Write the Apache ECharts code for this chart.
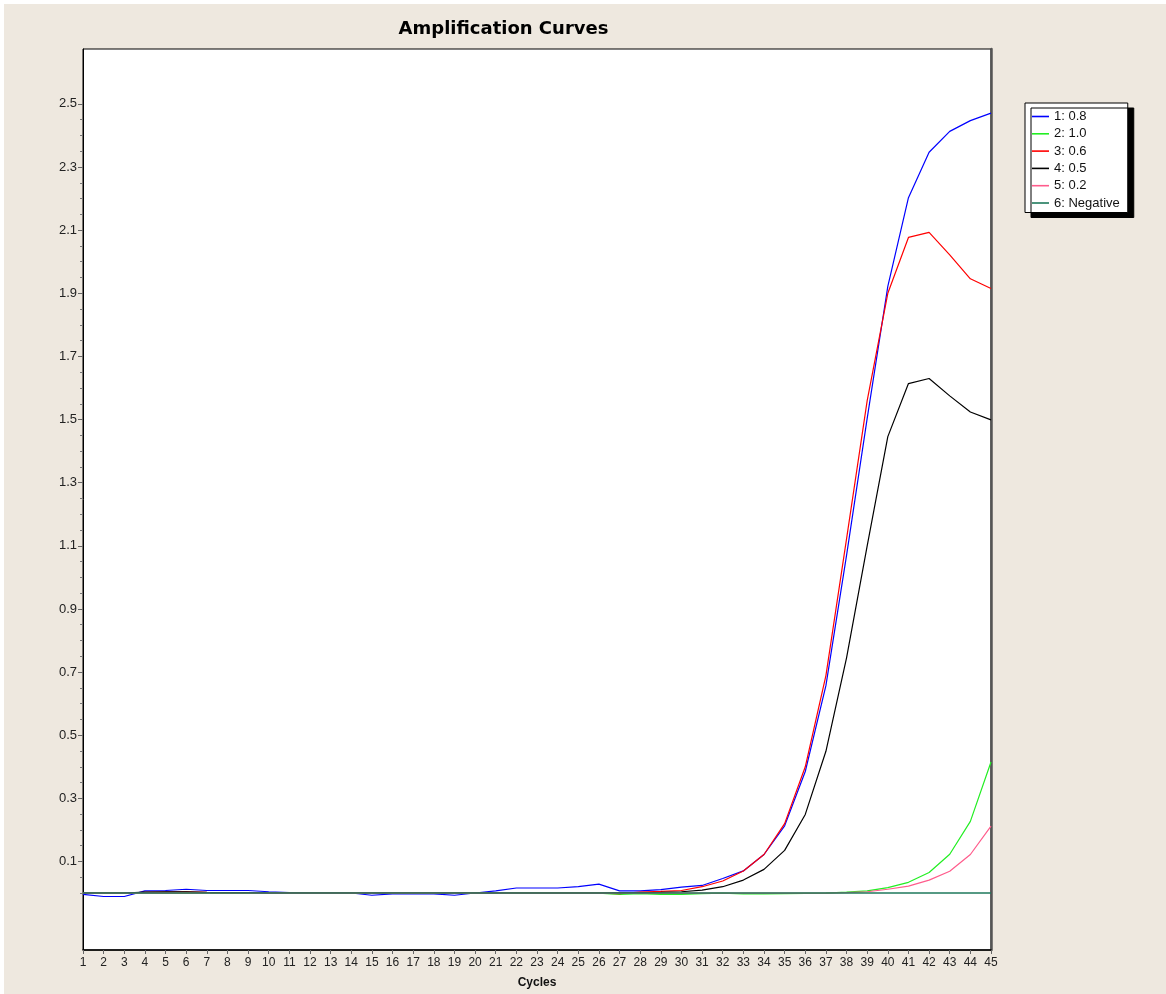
<!DOCTYPE html>
<html>
<head>
<meta charset="utf-8">
<script src="https://cdn.jsdelivr.net/npm/echarts@6/dist/echarts.min.js"></script>
<style>
html,body{margin:0;padding:0;background:#ffffff;}
#chart{position:absolute;left:4px;top:4px;width:1162px;height:990px;background:#EEE8DF;}
</style>
</head>
<body>
<div id="chart"></div>
<script>
const cycles = [1,2,3,4,5,6,7,8,9,10,11,12,13,14,15,16,17,18,19,20,21,22,23,24,25,26,27,28,29,30,31,32,33,34,35,36,37,38,39,40,41,42,43,44,45];

const seriesNames = ['1: 0.8','2: 1.0','3: 0.6','4: 0.5','5: 0.2','6: Negative'];

const s1 = [-0.004,-0.011,-0.011,0.007,0.008,0.012,0.008,0.008,0.008,0.004,0.001,0.0,0.0,0.0,-0.007,-0.003,-0.003,-0.003,-0.007,0.0,0.007,0.016,0.016,0.016,0.02,0.028,0.007,0.007,0.011,0.019,0.024,0.046,0.07,0.122,0.213,0.385,0.657,1.07,1.504,1.922,2.203,2.347,2.413,2.447,2.471];
const s2 = [0.0,0.0,0.0,0.0,0.0,0.0,0.0,0.0,0.0,0.0,0.0,0.0,0.0,0.0,0.0,0.0,0.0,0.0,0.0,0.0,0.0,0.0,0.0,0.0,0.0,0.0,-0.004,-0.002,-0.004,-0.004,-0.002,0.0,-0.003,-0.003,-0.002,-0.001,0.0,0.003,0.007,0.017,0.034,0.065,0.123,0.227,0.415];
const s3 = [0.0,0.0,0.0,0.002,0.003,0.004,0.002,0.001,0.001,0.0,0.0,0.0,0.0,0.0,0.0,0.0,0.0,0.0,0.0,0.0,0.0,0.0,0.0,0.0,0.0,0.0,-0.002,0.003,0.005,0.008,0.02,0.038,0.07,0.122,0.22,0.40,0.689,1.122,1.56,1.90,2.077,2.093,2.022,1.946,1.915];
const s4 = [0.0,0.0,0.0,0.003,0.004,0.004,0.002,0.001,0.001,0.0,0.0,0.0,0.0,0.0,0.0,0.0,0.0,0.0,0.0,0.0,0.0,0.0,0.0,0.0,0.0,0.0,0.001,0.001,0.002,0.004,0.009,0.02,0.041,0.075,0.135,0.249,0.449,0.745,1.10,1.446,1.614,1.630,1.575,1.524,1.499];
const s5 = [0.0,0.0,0.0,0.0,0.0,0.0,0.0,0.0,0.0,0.0,0.0,0.0,0.0,0.0,0.0,0.0,0.0,0.0,0.0,0.0,0.0,0.0,0.0,0.0,0.0,0.0,0.0,0.0,0.0,0.0,0.0,0.0,0.0,0.0,0.0,0.0,0.0,0.001,0.004,0.012,0.022,0.041,0.069,0.122,0.212];
const s6 = [0.0,0.0,0.0,0.0,0.0,0.0,0.0,0.0,0.0,0.0,0.0,0.0,0.0,0.0,0.0,0.0,0.0,0.0,0.0,0.0,0.0,0.0,0.0,0.0,0.0,0.0,0.0,0.0,0.0,0.0,0.0,0.0,0.0,0.0,0.0,0.0,0.0,0.0,0.0,0.0,0.0,0.0,0.0,0.0,0.0];

const yLabelTicks = [0.1,0.3,0.5,0.7,0.9,1.1,1.3,1.5,1.7,1.9,2.1,2.3,2.5];
const yMinorTicks = [0.0,0.05,0.15,0.2,0.25,0.35,0.4,0.45,0.55,0.6,0.65,0.75,0.8,0.85,0.95,1.0,1.05,1.15,1.2,1.25,1.35,1.4,1.45,1.55,1.6,1.65,1.75,1.8,1.85,1.95,2.0,2.05,2.15,2.2,2.25,2.35,2.4,2.45];

const colors = ['#0000FF','#22EE22','#FF0000','#000000','#FF5C8C','#1F7A5C'];
const allData = [s1,s2,s3,s4,s5,s6];

const chart = echarts.init(document.getElementById('chart'), null, {renderer:'canvas'});

const Y_MIN = -0.1805, Y_MAX = 2.674;

const series = allData.map((d, i) => ({
  name: seriesNames[i],
  type: 'line',
  data: d.map((v, k) => [cycles[k], v]),
  symbol: 'none',
  showSymbol: false,
  smooth: false,
  animation: false,
  z: i === 5 ? 3 : 2,
  lineStyle: { color: colors[i], width: i === 5 ? 1.6 : 1.2 },
  itemStyle: { color: colors[i] }
}));

chart.setOption({
  animation: false,
  backgroundColor: 'transparent',
  textStyle: { fontFamily: 'Liberation Sans, Arial, sans-serif' },
  title: {
    text: 'Amplification Curves',
    left: 499.5,
    top: 16,
    padding: 0,
    textAlign: 'center',
    textStyle: { fontFamily: 'DejaVu Sans', fontWeight: 'bold', fontSize: 18, color: '#000' }
  },
  legend: {
    orient: 'vertical',
    left: 1021,
    top: 99,
    padding: [7, 8, 3, 7],
    icon: 'rect',
    itemWidth: 17,
    itemHeight: 1.6,
    itemGap: 4.3,
    backgroundColor: '#ffffff',
    borderColor: '#000000',
    borderWidth: 1,
    borderRadius: 0,
    shadowColor: '#000000',
    shadowBlur: 0,
    shadowOffsetX: 6,
    shadowOffsetY: 5,
    textStyle: { fontSize: 13, color: '#111', fontFamily: 'Liberation Sans, Arial, sans-serif' },
    data: seriesNames
  },
  grid: {
    left: 79,
    top: 45,
    right: 175,
    bottom: 42.3,
    show: true,
    backgroundColor: '#ffffff',
    borderColor: '#000000',
    borderWidth: 1
  },
  xAxis: {
    type: 'value',
    min: 1,
    max: 45,
    interval: 1,
    name: 'Cycles',
    nameLocation: 'middle',
    nameGap: 27,
    nameTextStyle: { fontWeight: 'bold', fontSize: 12, color: '#111', fontFamily: 'Liberation Sans, Arial, sans-serif' },
    axisLine: { show: true, onZero: false, lineStyle: { color: '#000', width: 1.5 } },
    axisTick: { show: true, length: 4, lineStyle: { color: '#666' } },
    axisLabel: { show: true, fontSize: 12, color: '#222', margin: 7, fontFamily: 'Liberation Sans, Arial, sans-serif' },
    splitLine: { show: false }
  },
  yAxis: [
    {
      type: 'value',
      min: Y_MIN,
      max: Y_MAX,
      position: 'left',
      axisLine: { show: true, onZero: false, lineStyle: { color: '#000', width: 1 } },
      axisTick: { show: true, length: 5, customValues: yLabelTicks, lineStyle: { color: '#666' } },
      axisLabel: {
        show: true, customValues: yLabelTicks, fontSize: 13, color: '#222', margin: 6,
        fontFamily: 'Liberation Sans, Arial, sans-serif',
        formatter: v => v.toFixed(1)
      },
      splitLine: { show: false }
    },
    {
      type: 'value',
      min: Y_MIN,
      max: Y_MAX,
      position: 'left',
      axisLine: { show: false },
      axisTick: { show: true, length: 3, customValues: yMinorTicks, lineStyle: { color: '#777' } },
      axisLabel: { show: false },
      splitLine: { show: false }
    },
    {
      type: 'value',
      min: Y_MIN,
      max: Y_MAX,
      position: 'right',
      axisLine: { show: true, onZero: false, lineStyle: { color: '#555', width: 2.5 } },
      axisTick: { show: false },
      axisLabel: { show: false },
      splitLine: { show: false }
    }
  ],
  series: series
});
</script>
</body>
</html>
